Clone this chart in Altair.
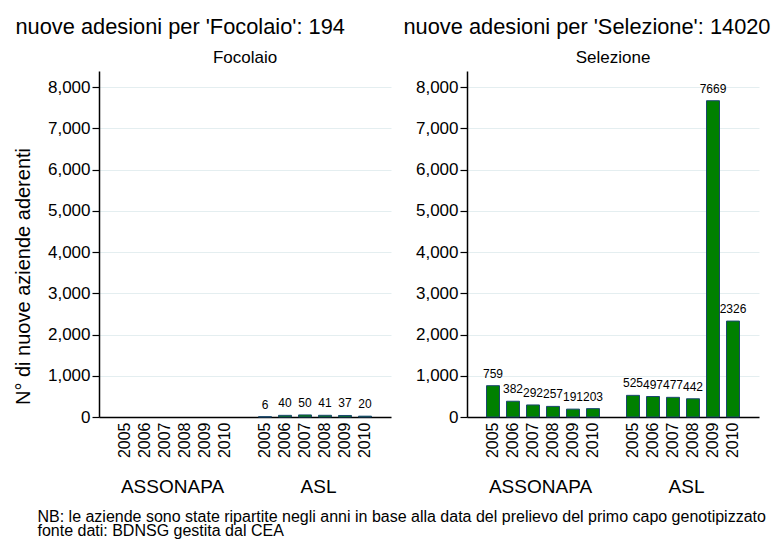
import altair as alt
import pandas as pd

years = ["2005", "2006", "2007", "2008", "2009", "2010"]
groups = ["ASSONAPA", "ASL"]

foc_assonapa = []                       # no new adhesions shown
foc_asl = [6, 40, 50, 41, 37, 20]
sel_assonapa = [759, 382, 292, 257, 191, 203]
sel_asl = [525, 497, 477, 442, 7669, 2326]

main_titles = ["nuove adesioni per 'Focolaio': 194", "nuove adesioni per 'Selezione': 14020"]
panel_titles = ["Focolaio", "Selezione"]
y_ticks = [0, 1000, 2000, 3000, 4000, 5000, 6000, 7000, 8000]
notes = ["NB: le aziende sono state ripartite negli anni in base alla data del prelievo del primo capo genotipizzato",
         "fonte dati: BDNSG gestita dal CEA"]

x_domain = [f"ASSONAPA {y}" for y in years] + ["gap"] + [f"ASL {y}" for y in years]
FONT = "Liberation Sans"


def frame(assonapa, asl):
    rows = []
    for y, v in zip(years, assonapa):
        rows.append({"key": f"ASSONAPA {y}", "value": v})
    for y, v in zip(years, asl):
        rows.append({"key": f"ASL {y}", "value": v})
    return pd.DataFrame(rows, columns=["key", "value"])


def panel(df, sub, main, main_dx, show_ytitle):
    xscale = alt.Scale(domain=x_domain, paddingInner=0.35, paddingOuter=0.975)
    yscale = alt.Scale(domain=[0, 8390], nice=False)
    xaxis = alt.Axis(title=None, labelAngle=270,
                     labelExpr="datum.value == 'gap' ? '' : slice(datum.value, -4)",
                     ticks=False, labelFontSize=16, labelPadding=5,
                     domainColor="black", domainWidth=1.5, grid=False)
    yaxis = alt.Axis(values=y_ticks, format=",d", tickSize=7, tickColor="black", tickWidth=1.2,
                     labelFontSize=17, labelPadding=2, domainColor="black", domainWidth=1.5,
                     gridColor="#e4eef0", gridWidth=1,
                     title="N° di nuove aziende aderenti" if show_ytitle else None,
                     titleFontSize=20, titleFontWeight="normal", titlePadding=14, titleY=205)
    base = alt.Chart(df)
    bars = base.mark_bar(color="#008000", stroke="#1a476f", strokeWidth=1).encode(
        x=alt.X("key:N", scale=xscale, axis=xaxis),
        y=alt.Y("value:Q", scale=yscale, axis=yaxis),
    )
    labels = base.mark_text(fontSize=12, baseline="alphabetic", dy=-8, color="black").encode(
        x=alt.X("key:N", scale=xscale, axis=xaxis),
        y=alt.Y("value:Q", scale=yscale, axis=yaxis),
        text="value:Q",
    )
    grp = alt.Chart(pd.DataFrame({"group": groups})).mark_point(opacity=0).encode(
        x=alt.X("group:N", scale=alt.Scale(domain=groups, paddingInner=0, paddingOuter=0.043),
                axis=alt.Axis(orient="bottom", title=None, labelAngle=0, ticks=False, domain=False,
                              grid=False, labelFontSize=19, labelPadding=60)),
        y=alt.value(0),
    )
    lay = alt.layer(alt.layer(bars, labels), grp).resolve_scale(x="independent").properties(
        width=292, height=346,
        title=alt.Title(sub, fontSize=17, fontWeight="normal", anchor="middle", offset=1),
    )
    return alt.vconcat(lay, title=alt.Title(main, fontSize=21.8, fontWeight="normal",
                                            anchor="start", dx=main_dx, offset=10))


left = panel(frame(foc_assonapa, foc_asl), panel_titles[0], main_titles[0], 2, True)
right = panel(frame(sel_assonapa, sel_asl), panel_titles[1], main_titles[1], -12, False)

chart = alt.hconcat(
    left, right, spacing=12,
    title=alt.Title(notes, orient="bottom", anchor="start", fontSize=16, fontWeight="normal",
                    lineHeight=14.5, dx=24, offset=12.5),
).configure(font=FONT, padding={"left": 5, "top": 9, "right": 0, "bottom": 0}, background="white"
).configure_view(stroke=None
).configure_title(color="black", font=FONT
).configure_axis(labelColor="black", titleColor="black", labelFont=FONT, titleFont=FONT)

chart.save("out.html", embed_options={"renderer": "svg", "actions": False})
